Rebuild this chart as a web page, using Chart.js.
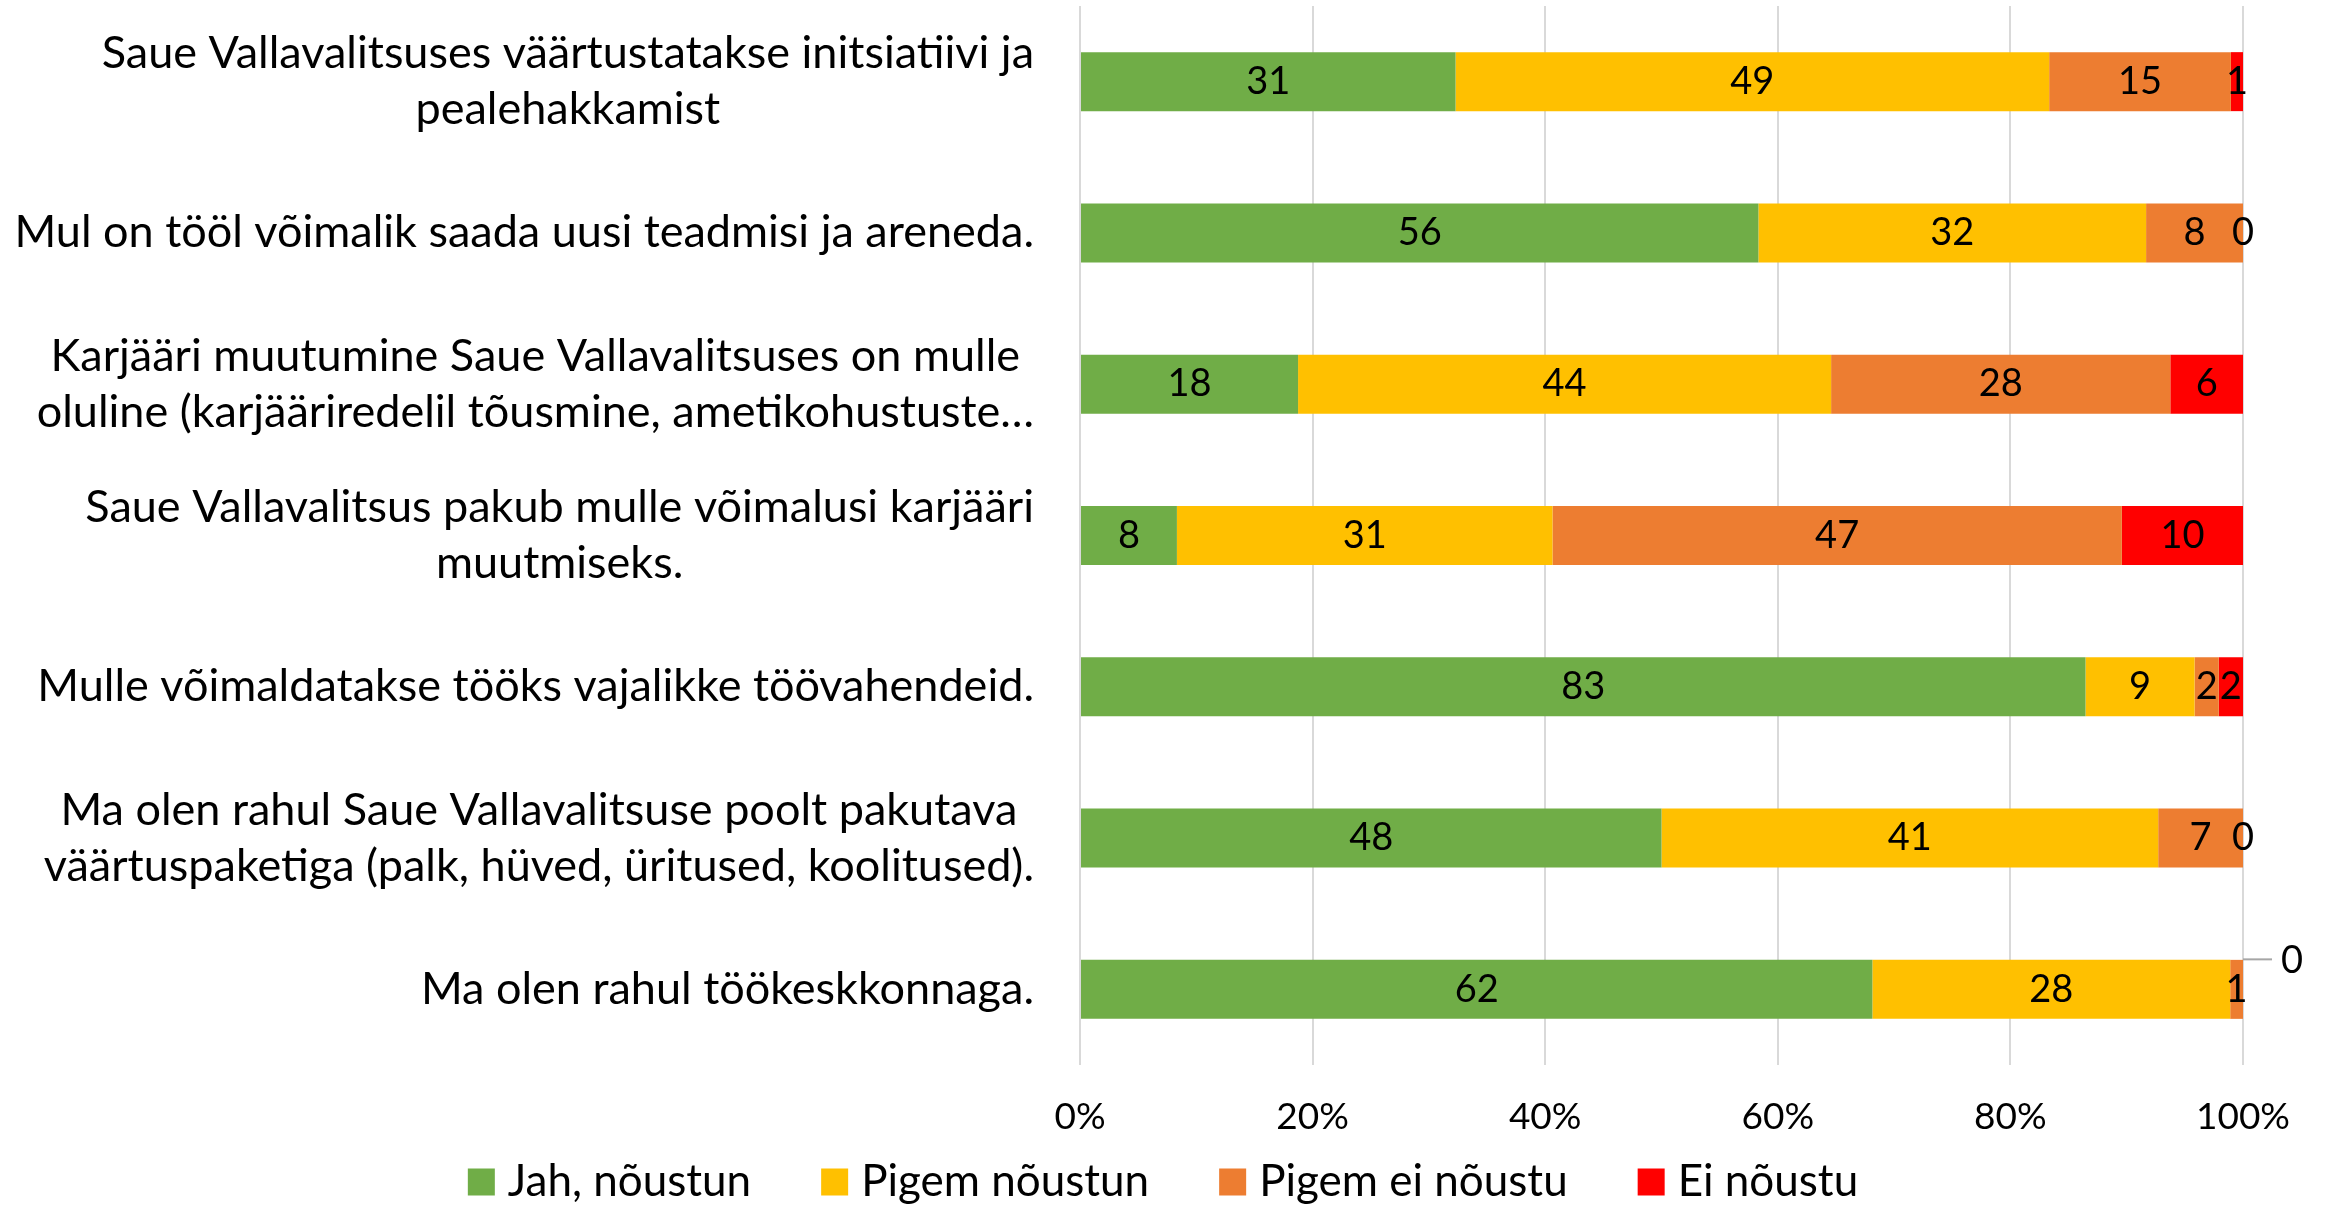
<!DOCTYPE html>
<html>
<head>
<meta charset="utf-8">
<script src="https://cdn.jsdelivr.net/npm/chart.js@4"></script>
<style>
  body { margin: 0; background: #fff; }
</style>
</head>
<body>
<canvas id="myChart" width="2326" height="1208"></canvas>
<script>
// DATA
const categories = [
  ['Saue Vallavalitsuses väärtustatakse initsiatiivi ja', 'pealehakkamist'],
  'Mul on tööl võimalik saada uusi teadmisi ja areneda.',
  ['Karjääri muutumine Saue Vallavalitsuses on mulle', 'oluline (karjääriredelil tõusmine, ametikohustuste…'],
  ['Saue Vallavalitsus pakub mulle võimalusi karjääri', 'muutmiseks.'],
  'Mulle võimaldatakse tööks vajalikke töövahendeid.',
  ['Ma olen rahul Saue Vallavalitsuse poolt pakutava', 'väärtuspaketiga (palk, hüved, üritused, koolitused).'],
  'Ma olen rahul töökeskkonnaga.'
];
const seriesNames = ['Jah, nõustun', 'Pigem nõustun', 'Pigem ei nõustu', 'Ei nõustu'];
const jah = [31, 56, 18, 8, 83, 48, 62];
const pigemJah = [49, 32, 44, 31, 9, 41, 28];
const pigemEi = [15, 8, 28, 47, 2, 7, 1];
const ei = [1, 0, 6, 10, 2, 0, 0];
const xTicks = [0, 20, 40, 60, 80, 100];
const colors = ['#70AD47', '#FFC000', '#ED7D31', '#FF0000'];

const FONT_FAMILY = 'Lato';
const LABEL_SIZE = 45;   // category labels
const LEGEND_SIZE = 44;
const TICK_SIZE = 37;
const VALUE_SIZE = 38;   // values in bars
const calloutRow = 6;    // the last "0" is moved out of the bar with a leader line

// 100% stacked: turn counts into shares of each row
const allCounts = [jah, pigemJah, pigemEi, ei];
const totals = categories.map((c, i) => allCounts.reduce((s, arr) => s + arr[i], 0));

const datasets = allCounts.map((counts, d) => ({
  label: seriesNames[d],
  counts: counts,
  data: counts.map((v, i) => v / totals[i] * 100),
  backgroundColor: colors[d],
  borderWidth: 0,
  barPercentage: 0.39,
  categoryPercentage: 1
}));

// labels inside the bars
const barLabels = {
  id: 'barLabels',
  afterDatasetsDraw(chart) {
    const ctx = chart.ctx;
    ctx.save();
    ctx.font = VALUE_SIZE + 'px ' + FONT_FAMILY;
    ctx.fillStyle = '#000';
    ctx.textAlign = 'center';
    ctx.textBaseline = 'middle';
    chart.data.datasets.forEach((ds, d) => {
      chart.getDatasetMeta(d).data.forEach((bar, i) => {
        let x = (bar.x + bar.base) / 2;
        let y = bar.y;
        if (i === calloutRow && d === chart.data.datasets.length - 1) {
          ctx.strokeStyle = '#A6A6A6';
          ctx.lineWidth = 2;
          ctx.beginPath();
          ctx.moveTo(bar.x, y - 30);
          ctx.lineTo(bar.x + 29, y - 30);
          ctx.stroke();
          x = bar.x + 49;
          y = y - 29;
        }
        ctx.fillText(ds.counts[i], x, y);
      });
    });
    ctx.restore();
  }
};

// category labels: block right aligned, lines centred inside the block
const categoryLabels = {
  id: 'categoryLabels',
  afterDraw(chart) {
    const ctx = chart.ctx;
    const yScale = chart.scales.y;
    const right = yScale.right - 46;
    const lineH = 56;
    ctx.save();
    ctx.font = LABEL_SIZE + 'px ' + FONT_FAMILY;
    ctx.fillStyle = '#000';
    ctx.textAlign = 'center';
    ctx.textBaseline = 'middle';
    categories.forEach((cat, i) => {
      const lines = Array.isArray(cat) ? cat : [cat];
      const w = Math.max(...lines.map(l => ctx.measureText(l).width));
      const cx = right - w / 2;
      const cy = yScale.getPixelForValue(i);
      lines.forEach((l, j) => {
        ctx.fillText(l, cx, cy + (j - (lines.length - 1) / 2) * lineH);
      });
    });
    ctx.restore();
  }
};

// legend row under the axis, wider spacing than the built-in one allows
const bottomLegend = {
  id: 'bottomLegend',
  afterDraw(chart) {
    const ctx = chart.ctx;
    const box = 27, gap = 13, spacing = 70;
    const y = 1182;
    ctx.save();
    ctx.font = LEGEND_SIZE + 'px ' + FONT_FAMILY;
    ctx.textBaseline = 'middle';
    ctx.textAlign = 'left';
    const widths = chart.data.datasets.map(ds => box + gap + ctx.measureText(ds.label).width);
    const total = widths.reduce((a, b) => a + b, 0) + spacing * (widths.length - 1);
    let x = (83 + chart.chartArea.right) / 2 - total / 2;
    chart.data.datasets.forEach((ds, d) => {
      ctx.fillStyle = ds.backgroundColor;
      ctx.fillRect(x, y - box / 2, box, box);
      ctx.fillStyle = '#000';
      ctx.fillText(ds.label, x + box + gap, y);
      x += widths[d] + spacing;
    });
    ctx.restore();
  }
};

const ctx = document.getElementById('myChart');

new Chart(ctx, {
  type: 'bar',
  data: {
    labels: categories,
    datasets: datasets
  },
  plugins: [barLabels, categoryLabels, bottomLegend],
  options: {
    indexAxis: 'y',
    responsive: false,
    animation: false,
    layout: { padding: { top: 6, left: 83, right: 83, bottom: 69 } },
    scales: {
      x: {
        stacked: true,
        min: 0,
        max: 100,
        afterBuildTicks: scale => { scale.ticks = xTicks.map(v => ({ value: v })); },
        afterFit: scale => { scale.height = 74; },
        grid: { color: '#D9D9D9', lineWidth: 2, drawTicks: false },
        border: { display: false },
        ticks: {
          padding: 30,
          color: '#000',
          font: { family: FONT_FAMILY, size: TICK_SIZE },
          callback: v => v + '%'
        }
      },
      y: {
        stacked: true,
        afterFit: scale => { scale.width = 997; },
        grid: { display: false },
        border: { display: false },
        ticks: { display: false }
      }
    },
    plugins: {
      legend: { display: false },
      tooltip: { enabled: false }
    }
  }
});
</script>
</body>
</html>
